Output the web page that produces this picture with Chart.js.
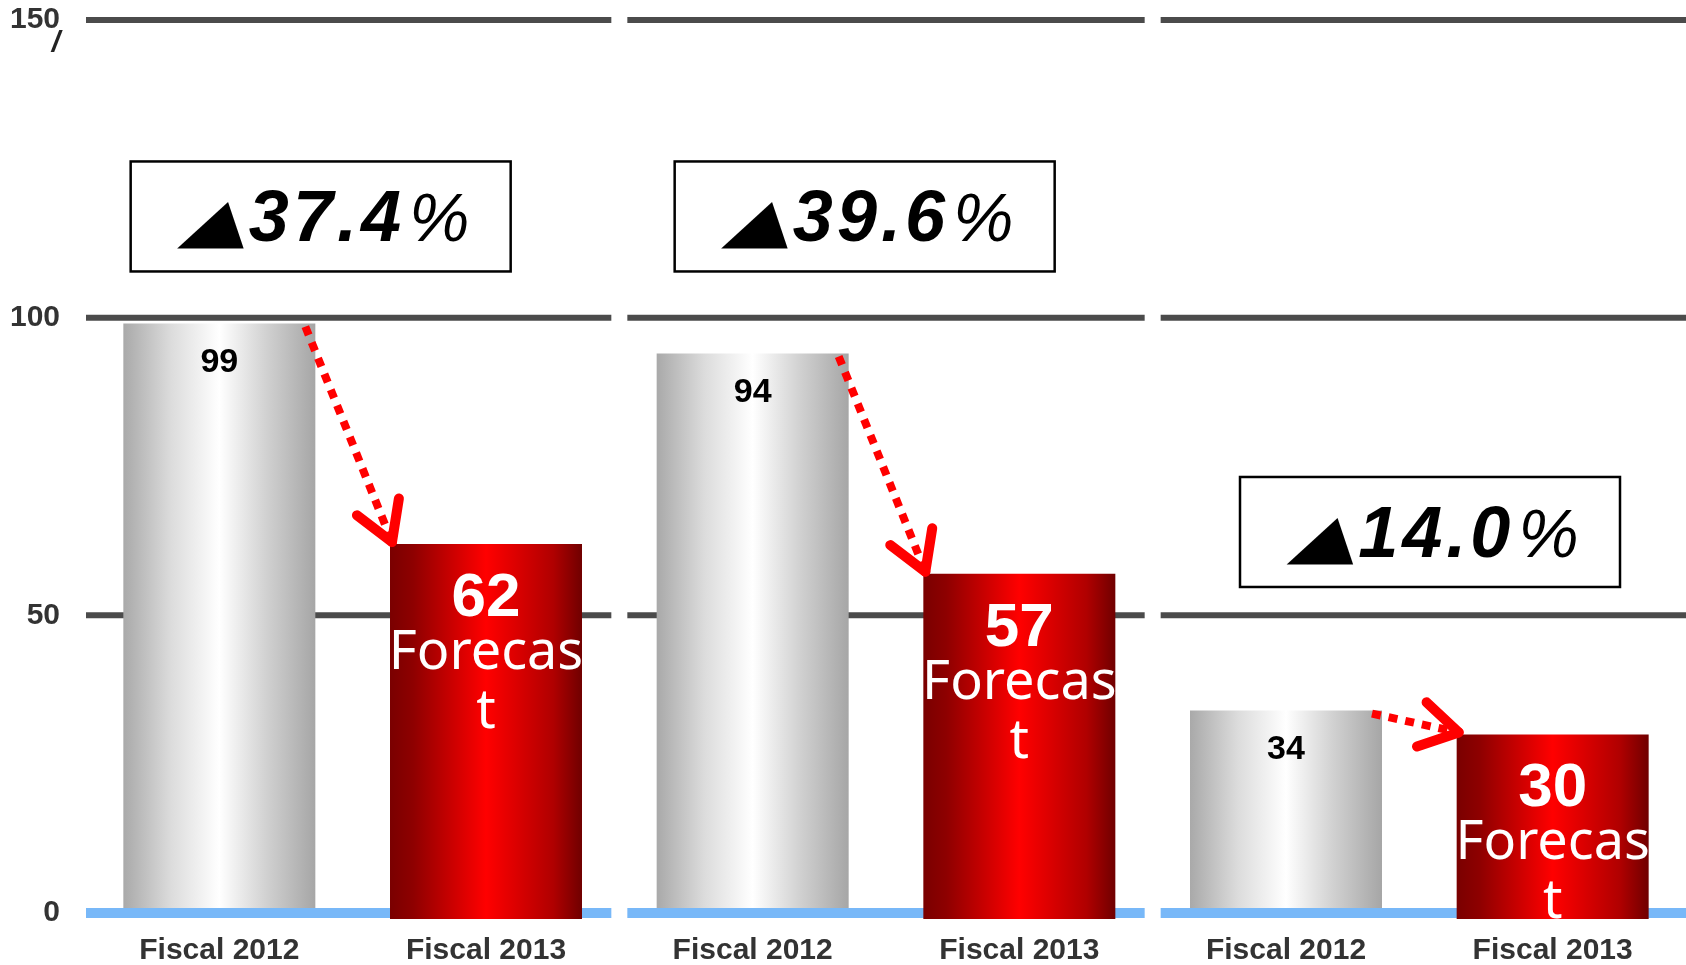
<!DOCTYPE html>
<html>
<head>
<meta charset="utf-8">
<script src="https://cdn.jsdelivr.net/npm/chart.js@4/dist/chart.umd.min.js"></script>
<style>
  html, body { margin: 0; padding: 0; background: #fff; }
  #wrap { width: 1686px; height: 965px; }
</style>
</head>
<body>
<div id="wrap"><canvas id="myChart" width="1686" height="965"></canvas></div>
<script>
// --- Data ---
const categories = ["Fiscal 2012", "Fiscal 2013"];
const fiscal2012 = [99, 94, 34];
const fiscal2013 = [62, 57, 30];
const changeLabels = ["▲37.4%", "▲39.6%", "▲14.0%"];
const forecastNote = "Forecast";
const yTicks = [0, 50, 100, 150];

// one category per bar, two per panel
const labels = fiscal2012.flatMap(() => categories);
const grayData = labels.map((_, i) => (i % 2 === 0 ? fiscal2012[i / 2] : null));
const redData = labels.map((_, i) => (i % 2 === 1 ? fiscal2013[(i - 1) / 2] : null));

const BAR_PCT = 0.72;
const FONT = '"Liberation Sans", Arial, sans-serif';

// horizontal gradient across one bar
function barGradient(c, stops, fallback) {
  const chart = c.chart;
  const x = chart.scales && chart.scales.x;
  if (c.dataIndex === undefined || !x || !x.width) return fallback;
  const cx = x.getPixelForValue(c.dataIndex);
  const w = (x.width / labels.length) * BAR_PCT;
  const g = chart.ctx.createLinearGradient(cx - w / 2, 0, cx + w / 2, 0);
  stops.forEach(([o, col]) => g.addColorStop(o, col));
  return g;
}

const grayStops = [[0, "#a9a9a9"], [0.25, "#dcdcdc"], [0.5, "#ffffff"], [0.75, "#d0d0d0"], [1, "#a6a6a6"]];
const redStops = [[0, "#7a0000"], [0.12, "#8e0000"], [0.5, "#ff0000"], [0.85, "#b00000"], [1, "#700000"]];

// panel edges, with a small gap between panels
function panelSpans(chart, gap) {
  const x = chart.scales.x;
  const area = chart.chartArea;
  const cw = x.width / labels.length;
  const spans = [];
  for (let p = 0; p < fiscal2012.length; p++) {
    const l = x.getPixelForValue(p * 2) - cw / 2;
    const r = x.getPixelForValue(p * 2 + 1) + cw / 2;
    spans.push([p === 0 ? area.left : l + gap / 2, p === fiscal2012.length - 1 ? area.right : r - gap / 2]);
  }
  return spans;
}

// --- Plugins ---
const gridPlugin = {
  id: "panelGrid",
  beforeDatasetsDraw(chart) {
    const { ctx } = chart;
    const y = chart.scales.y;
    ctx.save();
    ctx.strokeStyle = "#4b4b4b";
    ctx.lineWidth = 6;
    yTicks.filter((t) => t > 0).forEach((t) => {
      const py = y.getPixelForValue(t);
      panelSpans(chart, 16).forEach(([l, r]) => {
        ctx.beginPath();
        ctx.moveTo(l, py);
        ctx.lineTo(r, py);
        ctx.stroke();
      });
    });
    // stray mark under the top tick label
    ctx.fillStyle = "#222";
    ctx.font = "italic bold 30px " + FONT;
    ctx.textAlign = "center";
    ctx.textBaseline = "middle";
    ctx.fillText("/", 56, y.getPixelForValue(150) + 24);
    ctx.restore();
  },
  afterDatasetDraw(chart, args) {
    // blue zero line: over the gray bars, under the red ones
    if (args.index !== 0) return;
    const { ctx } = chart;
    const py = chart.scales.y.getPixelForValue(0);
    ctx.save();
    ctx.strokeStyle = "#78b8f8";
    ctx.lineWidth = 10;
    panelSpans(chart, 16).forEach(([l, r]) => {
      ctx.beginPath();
      ctx.moveTo(l, py);
      ctx.lineTo(r, py);
      ctx.stroke();
    });
    ctx.restore();
  },
};

function drawChange(ctx, text, cx, cy) {
  const num = text.slice(1, -1);
  const pct = text.slice(-1);
  const triW = 67;
  const numFont = "italic bold 72px " + FONT;
  const pctFont = "italic 68px " + FONT;

  ctx.font = numFont;
  ctx.letterSpacing = "4px";
  const wNum = ctx.measureText(num).width;
  ctx.letterSpacing = "0px";
  ctx.font = pctFont;
  const wPct = ctx.measureText(pct).width;

  const total = triW + 2 + wNum + 4 + wPct;
  let x0 = cx - total / 2;
  const base = cy + 25;

  // triangle glyph, stretched and slanted
  ctx.save();
  ctx.font = 'bold 64px "DejaVu Sans"';
  const tw = ctx.measureText(text[0]).width;
  ctx.translate(x0, base);
  ctx.transform(triW / tw, 0, -0.36, 0.95, 0, 0);
  ctx.textAlign = "left";
  ctx.textBaseline = "alphabetic";
  ctx.fillText(text[0], 0, 0);
  ctx.restore();

  x0 += triW + 2;
  ctx.textAlign = "left";
  ctx.textBaseline = "alphabetic";
  ctx.font = numFont;
  ctx.letterSpacing = "4px";
  ctx.fillText(num, x0, base);
  ctx.letterSpacing = "0px";
  ctx.font = pctFont;
  ctx.fillText(pct, x0 + wNum + 4, base);
}

function drawArrow(ctx, x1, y1, x2, y2) {
  ctx.save();
  ctx.strokeStyle = "#ff0000";
  ctx.lineWidth = 8;
  ctx.setLineDash([9, 8]);
  ctx.beginPath();
  ctx.moveTo(x1, y1);
  ctx.lineTo(x2, y2);
  ctx.stroke();
  ctx.setLineDash([]);
  const ang = Math.atan2(y1 - y2, x1 - x2);
  ctx.lineWidth = 10;
  ctx.lineCap = "round";
  [-0.54, 0.54].forEach((d) => {
    ctx.beginPath();
    ctx.moveTo(x2, y2);
    ctx.lineTo(x2 + 44 * Math.cos(ang + d), y2 + 44 * Math.sin(ang + d));
    ctx.stroke();
  });
  ctx.restore();
}

const annotatePlugin = {
  id: "annotate",
  afterDatasetsDraw(chart, args, opts) {
    const { ctx } = chart;
    const x = chart.scales.x;
    const y = chart.scales.y;
    const grayBars = chart.getDatasetMeta(0).data;
    const redBars = chart.getDatasetMeta(1).data;
    ctx.save();
    for (let p = 0; p < fiscal2012.length; p++) {
      const g = grayBars[p * 2];
      const r = redBars[p * 2 + 1];

      // value inside the gray bar
      ctx.fillStyle = "#000";
      ctx.font = "bold 34px " + FONT;
      ctx.textAlign = "center";
      ctx.textBaseline = "middle";
      ctx.fillText(String(fiscal2012[p]), g.x, g.y + 39);

      // value + forecast note inside the red bar
      ctx.fillStyle = "#fff";
      ctx.font = "bold 62px " + FONT;
      ctx.fillText(String(fiscal2013[p]), r.x, r.y + 55);
      ctx.font = '54px "Noto Sans", ' + FONT;
      ctx.textBaseline = "alphabetic";
      ctx.fillText(forecastNote.slice(0, -1), r.x, r.y + 125);
      ctx.fillText(forecastNote.slice(-1), r.x, r.y + 184);

      // dotted arrow from gray to red
      drawArrow(ctx, g.x + g.width / 2 - 10, g.y + 3, r.x - r.width / 2 + 2, r.y - 2);

      // change box
      const cx = x.getPixelForValue(opts.boxAt[p][0]);
      const cy = y.getPixelForValue(opts.boxAt[p][1]);
      const bw = 380, bh = 110;
      ctx.fillStyle = "#fff";
      ctx.fillRect(cx - bw / 2, cy - bh / 2, bw, bh);
      ctx.strokeStyle = "#000";
      ctx.lineWidth = 2.5;
      ctx.strokeRect(cx - bw / 2, cy - bh / 2, bw, bh);
      ctx.fillStyle = "#000";
      drawChange(ctx, changeLabels[p], cx + 4, cy);
    }
    ctx.restore();
  },
};

// --- Chart ---
const ctx = document.getElementById("myChart").getContext("2d");
const chart = new Chart(ctx, {
  type: "bar",
  data: {
    labels: labels,
    datasets: [
      {
        label: categories[0],
        data: grayData,
        backgroundColor: (c) => barGradient(c, grayStops, "#d0d0d0"),
        skipNull: true,
        categoryPercentage: 1,
        barPercentage: BAR_PCT,
        order: 1,
      },
      {
        label: categories[1],
        data: redData,
        backgroundColor: (c) => barGradient(c, redStops, "#d00000"),
        skipNull: true,
        categoryPercentage: 1,
        barPercentage: BAR_PCT,
        base: -1,
        clip: false,
        order: 0,
      },
    ],
  },
  options: {
    responsive: false,
    animation: false,
    devicePixelRatio: 1,
    layout: { padding: { top: 20, right: 0, bottom: 0, left: 0 } },
    scales: {
      x: {
        grid: { display: false, drawTicks: false },
        border: { display: false },
        ticks: {
          autoSkip: false,
          maxRotation: 0,
          padding: 20,
          color: "#333",
          font: { family: FONT, size: 30, weight: "bold" },
        },
        afterFit: (s) => { s.height = 52; s.paddingLeft = 0; s.paddingRight = 0; },
      },
      y: {
        min: 0,
        max: 150,
        grid: { display: false, drawTicks: false },
        border: { display: false },
        ticks: {
          stepSize: 50,
          padding: 26,
          color: "#333",
          font: { family: FONT, size: 30, weight: "bold" },
        },
        afterFit: (s) => { s.width = 86; s.paddingTop = 0; s.paddingBottom = 0; },
      },
    },
    plugins: {
      legend: { display: false },
      tooltip: { enabled: false },
      // box centre: [category position, value]
      annotate: { boxAt: [[0.38, 117], [2.42, 117], [4.54, 64]] },
    },
  },
  plugins: [gridPlugin, annotatePlugin],
});
</script>
</body>
</html>
